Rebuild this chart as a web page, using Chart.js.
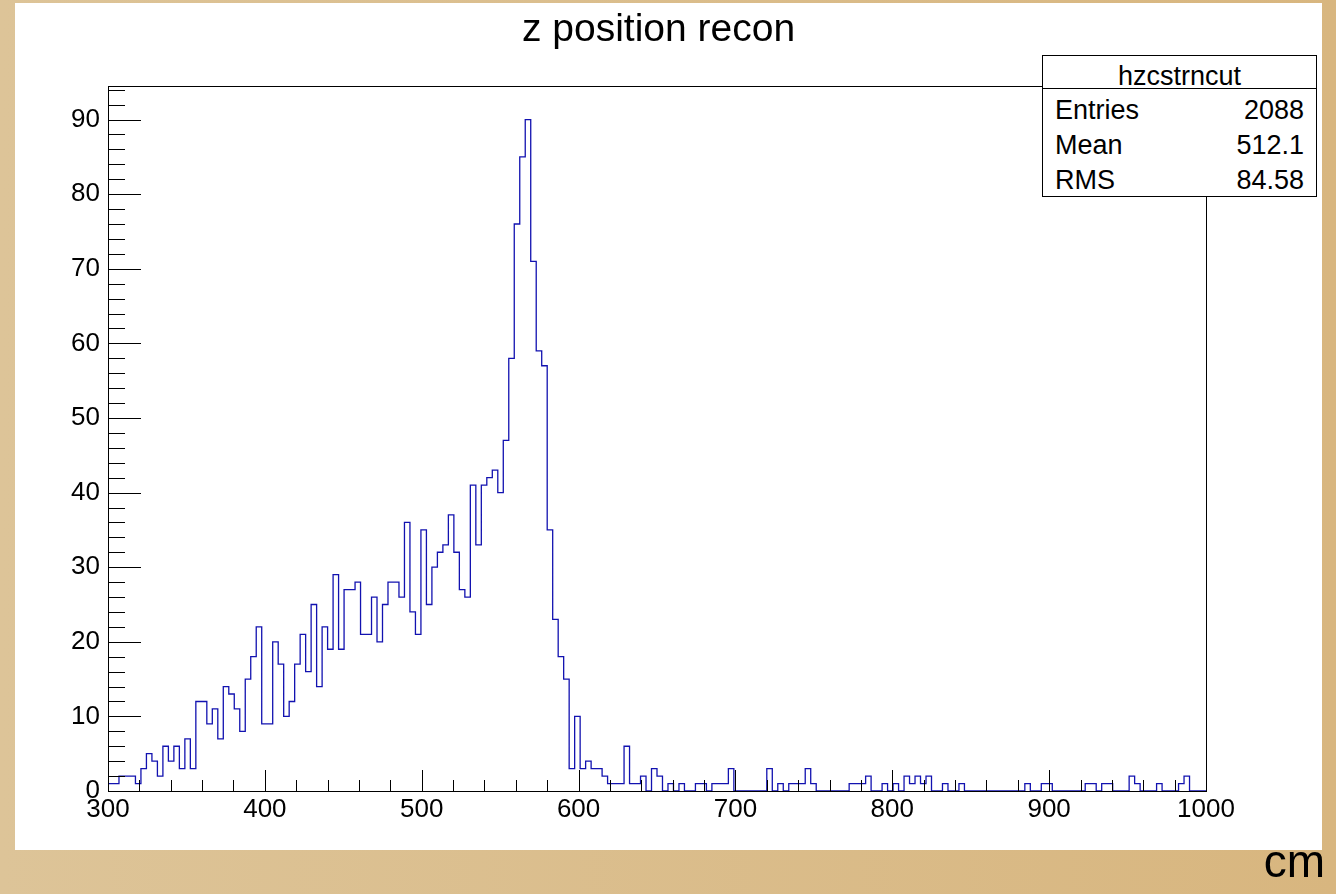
<!DOCTYPE html>
<html>
<head>
<meta charset="utf-8">
<title>z position recon</title>
<script src="https://cdn.jsdelivr.net/npm/chart.js@4.4.0/dist/chart.umd.min.js"></script>
<style>
    html, body { margin: 0; padding: 0; }
    body {
        width: 1336px; height: 894px; position: relative; overflow: hidden;
        background: linear-gradient(to right, #ddc498, #d8b67f);
        font-family: "Liberation Sans", Arial, Helvetica, sans-serif; color: #000;
    }
    #pad { position: absolute; left: 15px; top: 3px; width: 1307px; height: 847px; background: #fff; }
    #wrap { position: absolute; left: 0; top: 0; width: 1336px; height: 894px; }
    #title { position: absolute; left: 0; top: 8px; width: 1317px; text-align: center; font-size: 39px; line-height: 39px; }
    #stats {
        position: absolute; left: 1042px; top: 55px; width: 273px; height: 140px;
        border: 1px solid #000; background: #fff; font-size: 27px;
    }
    #stats .head { height: 28px; padding-top: 4px; line-height: 33px; text-align: center; border-bottom: 1px solid #000; }
    #stats .row { display: flex; justify-content: space-between; height: 35px; line-height: 35px; padding: 0 12px 0 12px; }
    #stats .first { margin-top: 4px; }
    #unit { position: absolute; right: 11px; top: 838px; font-size: 46px; line-height: 46px; }
</style>
</head>
<body>
<div id="pad"></div>
<div id="wrap"><canvas id="chartZ" width="1336" height="894"></canvas></div>
<div id="title">z position recon</div>
<div id="stats">
    <div class="head">hzcstrncut</div>
    <div class="row first"><span>Entries</span><span>2088</span></div>
    <div class="row"><span>Mean</span><span>512.1</span></div>
    <div class="row"><span>RMS</span><span>84.58</span></div>
</div>
<div id="unit">cm</div>
<script>
// histograma hzcstrncut: 200 bins entre 300 y 1000 cm
const xMin = 300;
const xMax = 1000;
const binWidth = 3.5;
const yMax = 94.5;

const counts = [
    1, 1, 2, 2, 2, 1, 3, 5, 4, 2, 6, 4, 6, 3, 7, 3, 12, 12, 9, 11,
    7, 14, 13, 11, 8, 15, 18, 22, 9, 9, 20, 17, 10, 12, 17, 21, 16, 25, 14, 22,
    19, 29, 19, 27, 27, 28, 21, 21, 26, 20, 25, 28, 28, 26, 36, 24, 21, 35, 25, 30,
    32, 33, 37, 32, 27, 26, 41, 33, 41, 42, 43, 40, 47, 58, 76, 85, 90, 71, 59, 57,
    35, 23, 18, 15, 3, 10, 3, 4, 3, 3, 2, 1, 1, 1, 6, 1, 1, 2, 0, 3,
    2, 0, 1, 0, 1, 0, 0, 1, 1, 0, 1, 1, 1, 3, 0, 0, 0, 0, 0, 0,
    3, 0, 1, 0, 1, 1, 1, 3, 1, 0, 0, 0, 0, 0, 0, 1, 1, 1, 2, 0,
    0, 1, 0, 1, 0, 2, 1, 2, 1, 2, 0, 0, 1, 0, 0, 1, 0, 0, 0, 0,
    0, 0, 0, 0, 0, 0, 0, 1, 0, 0, 1, 1, 0, 0, 0, 0, 0, 0, 1, 1,
    0, 1, 1, 0, 0, 0, 2, 1, 0, 0, 0, 1, 0, 0, 0, 1, 2, 0, 0, 0
];

const xTickValues = [300, 400, 500, 600, 700, 800, 900, 1000];
const yTickValues = [0, 10, 20, 30, 40, 50, 60, 70, 80, 90];
const xMinorStep = 20;
const yMinorStep = 2;

// puntos en el borde izquierdo de cada bin + cierre en xMax
const points = counts.map((c, i) => ({ x: xMin + i * binWidth, y: c }));
points.push({ x: xMax, y: counts[counts.length - 1] });

const font = { family: '"Liberation Sans", Arial, Helvetica, sans-serif', size: 26 };

// marco y marcas hacia dentro, estilo ROOT
const framePlugin = {
    id: 'frame',
    afterDatasetsDraw(chart) {
        const { ctx, chartArea: a, scales } = chart;
        ctx.save();
        ctx.strokeStyle = '#000';
        ctx.lineWidth = 1;
        ctx.beginPath();
        for (let v = xMin; v <= xMax + 0.001; v += xMinorStep) {
            const px = Math.round(scales.x.getPixelForValue(v)) + 0.5;
            const len = (v % 100 === 0) ? 21 : 11;
            ctx.moveTo(px, a.bottom);
            ctx.lineTo(px, a.bottom - len);
        }
        for (let v = 0; v <= yMax; v += yMinorStep) {
            const py = Math.round(scales.y.getPixelForValue(v)) + 0.5;
            const len = (v % 10 === 0) ? 33 : 17;
            ctx.moveTo(a.left, py);
            ctx.lineTo(a.left + len, py);
        }
        ctx.stroke();
        ctx.strokeRect(Math.round(a.left) + 0.5, Math.round(a.top) + 0.5,
            Math.round(a.right - a.left), Math.round(a.bottom - a.top));
        ctx.restore();
    }
};

new Chart(document.getElementById('chartZ'), {
    type: 'line',
    data: {
        datasets: [{
            label: 'hzcstrncut',
            data: points,
            stepped: 'before',
            borderColor: '#1212b0',
            borderWidth: 1.3,
            pointRadius: 0,
            fill: false,
            tension: 0
        }]
    },
    options: {
        responsive: false,
        animation: false,
        devicePixelRatio: 1,
        layout: { padding: { left: 0, top: 86, right: 130, bottom: 53 } },
        plugins: { legend: { display: false }, tooltip: { enabled: false }, title: { display: false } },
        scales: {
            x: {
                type: 'linear',
                min: xMin,
                max: xMax,
                afterBuildTicks: s => { s.ticks = xTickValues.map(v => ({ value: v })); },
                afterFit: s => { s.height = 50; },
                grid: { display: false, drawTicks: false },
                border: { display: false },
                ticks: { color: '#000', font, padding: 3, maxRotation: 0, autoSkip: false,
                         callback: v => String(v) }
            },
            y: {
                type: 'linear',
                min: 0,
                max: yMax,
                afterBuildTicks: s => { s.ticks = yTickValues.map(v => ({ value: v })); },
                afterFit: s => { s.width = 108; },
                grid: { display: false, drawTicks: false },
                border: { display: false },
                ticks: { color: '#000', font, padding: 8, autoSkip: false,
                         callback: v => String(v) }
            }
        }
    },
    plugins: [framePlugin]
});
</script>
</body>
</html>
